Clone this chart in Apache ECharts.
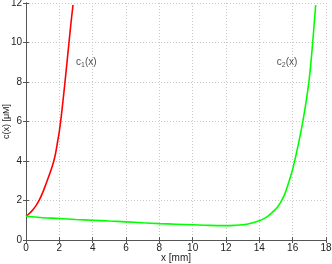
<!DOCTYPE html>
<html>
<head>
<meta charset="utf-8">
<script src="https://cdn.jsdelivr.net/npm/echarts@6/dist/echarts.min.js"></script>
<style>
  html, body { margin: 0; padding: 0; background: #fff; }
  #chart { width: 332px; height: 264px; }
</style>
</head>
<body>
<div id="chart"></div>
<script>
// c1(x), red
const c1X = [0, 0.2, 0.4, 0.6, 0.8, 1.0, 1.2, 1.4, 1.6, 1.7, 1.8, 1.9, 2.0, 2.1, 2.2, 2.34, 2.46, 2.58, 2.7, 2.82]
const c1Y = [1.2, 1.34, 1.52, 1.74, 2.03, 2.4, 2.84, 3.3, 3.8, 4.1, 4.5, 5.0, 5.5, 6.15, 6.9, 8.0, 9.0, 10.0, 11.0, 11.9]
// c2(x), green
const c2X = [0, 1, 2, 3, 4, 5, 6, 7, 8, 9, 10, 11, 12, 12.5, 13, 13.5, 14, 14.25, 14.5, 14.75, 15, 15.25, 15.5, 15.75, 16, 16.25, 16.5, 16.75, 17, 17.2, 17.38]
const c2Y = [1.2, 1.13, 1.09, 1.04, 1.0, 0.96, 0.92, 0.87, 0.83, 0.8, 0.77, 0.74, 0.73, 0.74, 0.77, 0.85, 0.98, 1.07, 1.2, 1.38, 1.58, 1.87, 2.27, 2.88, 3.58, 4.5, 5.5, 6.7, 8.2, 10.0, 11.9]
const labels = [
  { name: '1', x: 3.0, y: 9.0 },
  { name: '2', x: 15.05, y: 9.0 },
]

const axisColor = '#555'
const font = 'Liberation Sans, Arial, sans-serif'

const chart = echarts.init(document.getElementById('chart'), null, { renderer: 'canvas' })

const boxAxis = (extra) => Object.assign({
  type: 'value',
  axisLine: { show: true, lineStyle: { color: axisColor, width: 1 } },
  axisTick: { show: true, inside: true, length: 3, lineStyle: { color: axisColor } },
  axisLabel: { show: false },
  splitLine: { show: false },
}, extra)

chart.setOption({
  animation: false,
  backgroundColor: '#fff',
  textStyle: { fontFamily: font },
  grid: { left: 26, right: 6, top: 3, bottom: 24, containLabel: false, outerBoundsMode: 'none' },
  xAxis: [
    boxAxis({
      min: 0, max: 18, interval: 2, position: 'bottom',
      name: 'x [mm]', nameLocation: 'middle', nameGap: 13, nameMoveOverlap: false,
      nameTextStyle: { color: '#222', fontSize: 10, fontFamily: font },
      axisLabel: { show: true, color: '#222', fontSize: 10, margin: 3, fontFamily: font },
      splitLine: { show: true, lineStyle: { color: '#c8c8c8', type: [1, 2], width: 1 } },
    }),
    boxAxis({ min: 0, max: 18, interval: 2, position: 'top' }),
  ],
  yAxis: [
    boxAxis({
      min: 0, max: 12, interval: 2, position: 'left',
      name: 'c(x) [\u03bcM]', nameLocation: 'middle', nameGap: 15, nameMoveOverlap: false,
      nameTextStyle: { color: '#222', fontSize: 9, fontFamily: font },
      axisLabel: { show: true, color: '#222', fontSize: 10, margin: 4, fontFamily: font },
      splitLine: { show: true, lineStyle: { color: '#c8c8c8', type: [1, 2], width: 1 } },
    }),
    boxAxis({ min: 0, max: 12, interval: 2, position: 'right' }),
  ],
  series: [
    {
      name: 'c1', type: 'line', smooth: 0.4, showSymbol: false,
      data: c1X.map((x, i) => [x, c1Y[i]]),
      lineStyle: { color: '#ff0000', width: 1.6 },
    },
    {
      name: 'c2', type: 'line', smooth: 0.4, showSymbol: false,
      data: c2X.map((x, i) => [x, c2Y[i]]),
      lineStyle: { color: '#00ff00', width: 1.6 },
    },
    {
      name: 'labels', type: 'scatter', symbolSize: 0,
      data: labels.map(d => ({ value: [d.x, d.y], name: d.name })),
      label: {
        show: true, position: 'right', distance: 0,
        formatter: p => `{c|c}{s|${p.name}}{c|(x)}`,
        rich: {
          c: { fontSize: 10, color: '#222', fontFamily: font },
          s: { fontSize: 7, color: '#222', fontFamily: font, verticalAlign: 'bottom', padding: [5, 0, 0, 0] },
        },
      },
    },
  ],
})
</script>
</body>
</html>
